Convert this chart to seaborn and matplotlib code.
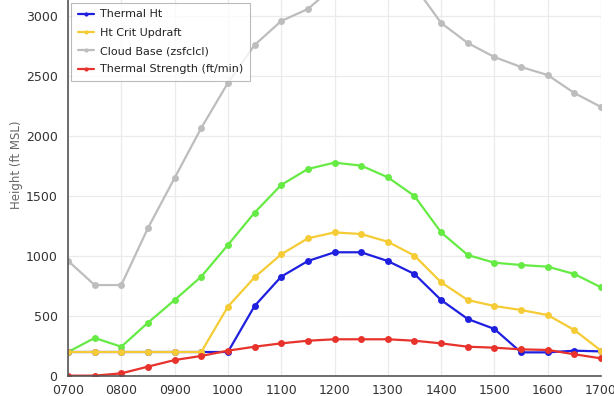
import matplotlib
matplotlib.use("Agg")
import matplotlib.pyplot as plt
from matplotlib.ticker import FixedLocator
import pandas as pd
import seaborn as sns

# time of day (half-hour steps)
horas = ["0700", "0730", "0800", "0830", "0900", "0930", "1000", "1030", "1100", "1130",
         "1200", "1230", "1300", "1330", "1400", "1430", "1500", "1530", "1600", "1630", "1700"]

# series (ft)
dry_thermal = [200, 317, 244, 444, 633, 828, 1092, 1361, 1592, 1725,
               1778, 1753, 1656, 1500, 1197, 1008, 944, 925, 911, 850, 739]
thermal_ht = [200, 200, 200, 200, 200, 200, 200, 583, 828, 958,
              1031, 1031, 958, 850, 633, 475, 392, 197, 197, 211, 205]
ht_crit = [200, 200, 200, 200, 200, 200, 578, 822, 1014, 1147,
           1197, 1183, 1119, 1003, 781, 633, 583, 550, 508, 383, 211]
cloud_base = [960, 758, 758, 1233, 1650, 2067, 2442, 2758, 2958, 3058,
              3250, 3330, 3320, 3250, 2942, 2775, 2658, 2575, 2508, 2358, 2242]
thermal_str = [3, 3, 22, 78, 133, 167, 211, 244, 272, 294,
               306, 306, 306, 294, 272, 244, 236, 222, 217, 181, 147]

series = [
    ("_dry", dry_thermal, "#66ea44"),
    ("Thermal Ht", thermal_ht, "#1f1fe0"),
    ("Ht Crit Updraft", ht_crit, "#f5cc35"),
    ("Cloud Base (zsfclcl)", cloud_base, "#bdbdbd"),
    ("Thermal Strength (ft/min)", thermal_str, "#e8322c"),
]

sns.set_style("white")
plt.rcParams["font.family"] = ["DejaVu Sans"]

fig = plt.figure(figsize=(6.14, 3.96), dpi=100)
# axes run past the top of the figure (cropped screenshot)
ax = fig.add_axes([68 / 614, 20 / 396, 533 / 614, 420 / 396])

for nome, vals, cor in series:
    df = pd.DataFrame({"hora": horas, "h": vals})
    sns.lineplot(data=df, x="hora", y="h", ax=ax, color=cor, marker="o",
                 markersize=5, markeredgewidth=0, linewidth=1.6,
                 label=nome if not nome.startswith("_") else None, sort=False)

ax.set_xlim(0, len(horas) - 1)
ax.set_ylim(0, 3500)

maj = [i for i, t in enumerate(horas) if t.endswith("00")]
minr = [i for i, t in enumerate(horas) if not t.endswith("00")]
ax.xaxis.set_major_locator(FixedLocator(maj))
ax.xaxis.set_minor_locator(FixedLocator(minr))
ax.set_xticklabels([horas[i] for i in maj])
ax.set_yticks([0, 500, 1000, 1500, 2000, 2500, 3000])

ax.grid(True, which="major", color="#ebebeb", linewidth=0.9)
ax.tick_params(axis="both", which="both", direction="out", colors="#555555",
               labelcolor="#333333", labelsize=9, length=4, width=0.8)
ax.tick_params(axis="x", which="both", pad=2)
for s in ["top", "right"]:
    ax.spines[s].set_visible(False)
for s in ["left", "bottom"]:
    ax.spines[s].set_color("#555555")
    ax.spines[s].set_linewidth(1.2)

ax.set_xlabel("")
ax.set_ylabel("Height (ft MSL)", fontsize=8.5, color="#666666")
ax.yaxis.set_label_coords(-0.085, 0.502)

leg = ax.legend(loc="lower left", bbox_to_anchor=(0.0056, 0.702), borderaxespad=0,
                fontsize=8, frameon=True, fancybox=False, handlelength=1.5,
                handletextpad=0.55, labelspacing=0.75, markerscale=0.6,
                borderpad=0.6)
leg.get_frame().set_edgecolor("#aaaaaa")
leg.get_frame().set_linewidth(0.8)
for t in leg.get_texts():
    t.set_color("#222222")

fig.savefig("out.png", dpi=100)
